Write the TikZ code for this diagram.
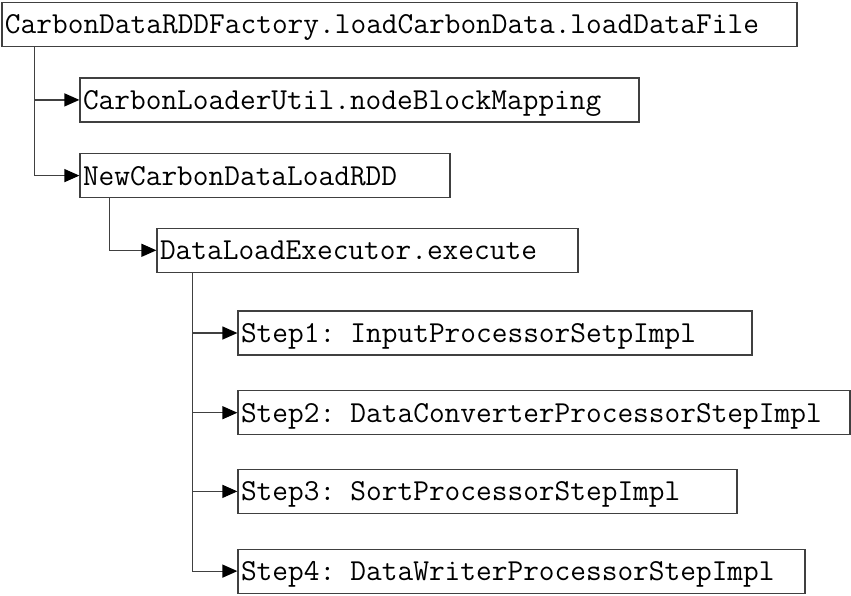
\documentclass[tikz,border=0pt]{standalone}
\usepackage{fontspec}
\usepackage{tikz}
\usetikzlibrary{arrows.meta,positioning}

\begin{document}
\begin{tikzpicture}[
            x=1pt,y=1pt,
            >=Latex,
            box/.style={draw=black!75,rectangle,line width=1.2pt,fill=white,align=left,
                        text width=#1,minimum height=44pt,inner xsep=3pt,inner ysep=0pt,
                        text height=25pt,text depth=6pt,
                        font=\fontsize{30.5pt}{36pt}\selectfont\ttfamily},
            link/.style={-{Triangle[length=15pt,width=13pt,fill=black,color=black]},
                         draw=black!75,line width=1.2pt}
        ]
        \useasboundingbox (0,0) rectangle (851,-595);
        \node[box=789pt, anchor=north west] (loadfile) at (1.4,-1.6) {CarbonDataRDDFactory.loadCarbonData.loadDataFile};
        \node[box=553pt, below right=30.5pt and 78pt of loadfile.south west] (mapping) {CarbonLoaderUtil.nodeBlockMapping};
        \node[box=364pt, below=30.5pt of mapping.south west, anchor=north west] (loadrdd) {NewCarbonDataLoadRDD};
        \node[box=415pt, below right=29.5pt and 77pt of loadrdd.south west] (executor) {DataLoadExecutor.execute};
        % steps
        \node[box=508pt, below right=37.5pt and 81pt of executor.south west] (step1) {Step1: InputProcessorSetpImpl};
        \node[box=606pt, below=34.5pt of step1.south west, anchor=north west] (step2) {Step2: DataConverterProcessorStepImpl};
        \node[box=493pt, below=33.5pt of step2.south west, anchor=north west] (step3) {Step3: SortProcessorStepImpl};
        \node[box=561pt, below=34.5pt of step3.south west, anchor=north west] (step4) {Step4: DataWriterProcessorStepImpl};
        % call tree
        \draw[link] ([xshift=33pt]loadfile.south west) |- (mapping.west);
        \draw[link] ([xshift=33pt]loadfile.south west) |- (loadrdd.west);
        \draw[link] ([xshift=30pt]loadrdd.south west) |- (executor.west);
        \foreach \s in {step1,step2,step3,step4}
            \draw[link] ([xshift=36pt]executor.south west) |- (\s.west);
\end{tikzpicture}
\end{document}
